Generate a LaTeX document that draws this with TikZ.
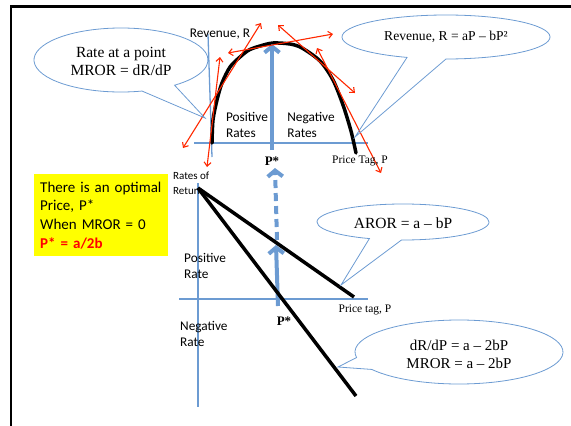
\documentclass[tikz,border=0pt]{standalone}
\usepackage{fontspec}
\setmainfont{Liberation Serif}
\newfontfamily\calfont{Carlito}
\usetikzlibrary{arrows.meta}
\definecolor{lineblue}{RGB}{108,155,210}
\definecolor{tanred}{RGB}{255,40,0}
\definecolor{boxyellow}{RGB}{255,255,0}
\tikzset{
  axisline/.style={lineblue, line width=1.3pt},
  tangent/.style={tanred, line width=1.1pt, {Straight Barb[length=4pt,width=7pt]}-{Straight Barb[length=4pt,width=7pt]}},
  optarrow/.style={lineblue, line width=4pt, -{Straight Barb[length=6pt,width=15pt]}},
  rorline/.style={black, line width=3.5pt},
  bubble/.style={lineblue, line width=0.8pt},
  sanslab/.style={font=\calfont\fontsize{13.3}{16}\selectfont, align=left, inner sep=0pt},
  seriflab/.style={font=\fontsize{11.5}{14}\selectfont, inner sep=0pt},
  starlab/.style={font=\bfseries\fontsize{13}{15}\selectfont, inner sep=0pt},
  bubbletext/.style={font=\fontsize{15.5}{18}\selectfont, align=center, inner sep=0pt}
}
\begin{document}
\begin{tikzpicture}[x=1pt,y=-1pt]
    \useasboundingbox (0,0) rectangle (571,426);
    % frame
    \draw[line width=2.5pt] (11,426) -- (11,6.5) -- (571,6.5);
    % revenue graph (top)
    \coordinate (Rtop) at (208,34);
    \coordinate (Rbot) at (212,157);
    \coordinate (Pleft) at (194,143);
    \coordinate (Pright) at (368,143);
    \draw[axisline] (Rbot) -- (Rtop);
    \draw[axisline] (Pleft) -- (Pright);
    \draw[black, line width=3.5pt, line cap=round] plot[smooth] coordinates {(212,143) (213,120) (217,100) (222,83) (230,67) (240,57) (249,50) (260,46) (273,43) (290,44) (302,48) (320,61) (333,80) (343,105) (351,131) (356,153)};
    % optimum
    \coordinate (topbase) at (272,150);
    \coordinate (toptip) at (272,44);
    \draw[optarrow] (topbase) -- (toptip);
    % tangents
    \coordinate (ta1) at (183,148); \coordinate (tb1) at (261,23);
    \coordinate (ta2) at (207,167); \coordinate (tb2) at (220,57);
    \coordinate (ta3) at (228,53);  \coordinate (tb3) at (333,34);
    \coordinate (ta4) at (278,25);  \coordinate (tb4) at (355,93);
    \coordinate (ta5) at (317,48);  \coordinate (tb5) at (381,173);
    \draw[tangent] (ta1) -- (tb1);
    \draw[tangent] (ta2) -- (tb2);
    \draw[tangent] (ta3) -- (tb3);
    \draw[tangent] (ta4) -- (tb4);
    \draw[tangent] (ta5) -- (tb5);
    \node[sanslab] (revlab) at (220,34) {Revenue, R};
    \node[sanslab] (posrates) at (247,125) {Positive\\Rates};
    \node[sanslab] (negrates) at (311,125) {Negative\\Rates};
    \node[starlab] (pstartop) at (272,161) {P*};
    \node[seriflab] (ptagtop) at (360,161) {Price Tag, P};
    % rates of return graph (bottom)
    \coordinate (Vtop) at (198,183);
    \coordinate (Vbot) at (198,407);
    \coordinate (Hleft) at (179,299);
    \coordinate (Hright) at (368,299);
    \draw[axisline] (Vtop) -- (Vbot);
    \draw[axisline] (Hleft) -- (Hright);
    \coordinate (dashbase) at (277,240);
    \coordinate (dashtip) at (275,168);
    \coordinate (solidbase) at (278,306);
    \coordinate (solidtip) at (276,245);
    \draw[optarrow, dash pattern=on 8pt off 5pt] (dashbase) -- (dashtip);
    \draw[optarrow] (solidbase) -- (solidtip);
    \coordinate (V) at (198,188);
    \coordinate (arorend) at (354,297);
    \coordinate (mrorend) at (356,396);
    \draw[rorline] (V) -- (arorend);
    \draw[rorline] (V) -- (mrorend);
    \node[sanslab, font=\calfont\fontsize{11}{15}\selectfont, anchor=west] (rateslab) at (173,183) {Rates of\\Return};
    \node[sanslab, anchor=west] (posrate) at (184,266) {Positive\\Rate};
    \node[sanslab, anchor=west] (negrate) at (180,334) {Negative\\Rate};
    \node[starlab] (pstarbot) at (284,321) {P*};
    \node[seriflab] (ptagbot) at (365,310) {Price tag, P};
    % yellow note
    \node[fill=boxyellow, anchor=north west, minimum width=134pt, minimum height=82pt, text width=122pt, inner xsep=6pt, align=left, font=\calfont\fontsize{15}{18.7}\selectfont] (note) at (34,174) {There is an optimal\\Price, P*\\When MROR = 0\\{\color{red}\bfseries P* = a/2b}};
    % callouts
    \node[bubbletext] (ratept) at (121,61) {Rate at a point\\MROR = dR/dP};
    \coordinate (tipA) at (205,118);
    \draw[bubble] (121,60) ++(76:87 and 32) arc[start angle=76, end angle=412, x radius=87, y radius=32] -- (tipA) -- cycle;
    \node[bubbletext, font=\fontsize{13.6}{16}\selectfont] (revfun) at (446,37) {Revenue, R = aP – bP²};
    \coordinate (tipB) at (355,137);
    \draw[bubble] (446,37) ++(112:104 and 22) arc[start angle=112, end angle=450, x radius=104, y radius=22] -- (tipB) -- cycle;
    \node[bubbletext] (aror) at (403,223) {AROR = a – bP};
    \coordinate (tipC) at (341,285);
    \draw[bubble] (403,222) ++(113:86 and 18) arc[start angle=113, end angle=451, x radius=86, y radius=18] -- (tipC) -- cycle;
    \node[bubbletext, font=\fontsize{15}{18}\selectfont] (mror) at (459,354) {dR/dP = a – 2bP\\MROR = a – 2bP};
    \coordinate (tipD) at (338,367);
    \draw[bubble] (459,352) ++(170:104 and 32) arc[start angle=170, end angle=507, x radius=104, y radius=32] -- (tipD) -- cycle;
\end{tikzpicture}
\end{document}
